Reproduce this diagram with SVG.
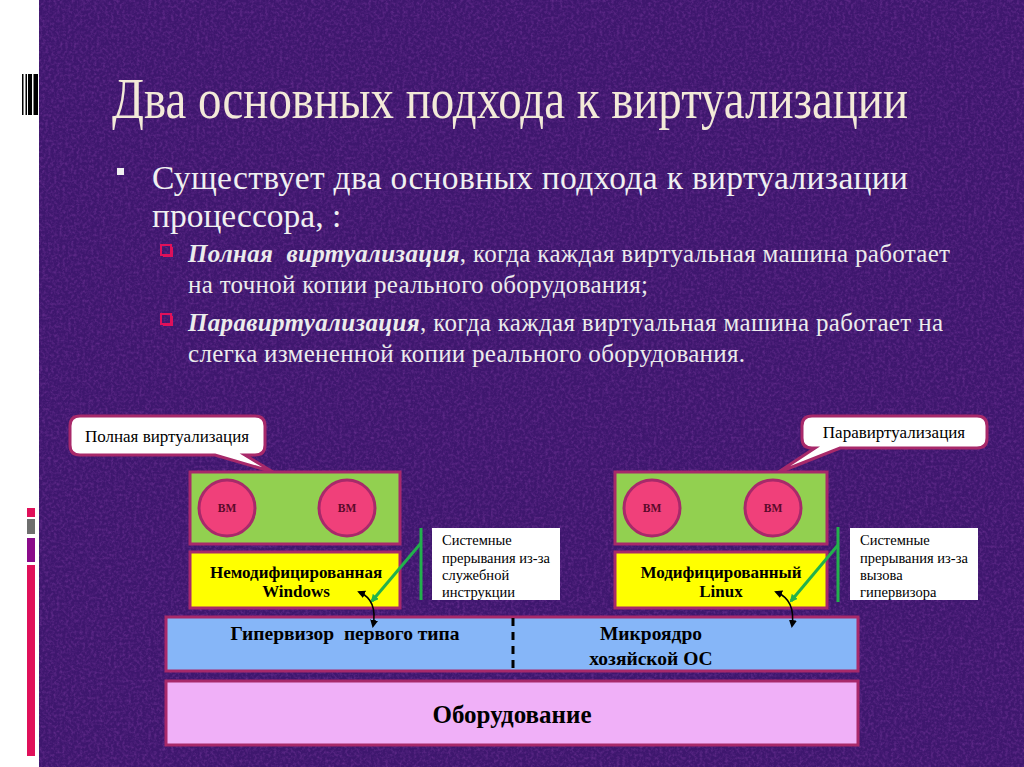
<svg xmlns="http://www.w3.org/2000/svg" width="1024" height="767" viewBox="0 0 1024 767">
<defs>
<style>
.sf{font-family:"Liberation Serif","Times New Roman",serif}
.box{stroke:#a8296a;stroke-width:3}
.lbl{font-family:"Liberation Serif","Times New Roman",serif;font-weight:bold;fill:#000;text-anchor:middle}
.vm{font-family:"Liberation Serif",serif;font-weight:bold;font-size:11.5px;fill:#5a0a2a;text-anchor:middle}
.note{font-family:"Liberation Serif",serif;font-size:14.5px;fill:#000}
.call{fill:#fff;stroke:#a8296a;stroke-width:3}
</style>
<filter id="noise" x="0" y="0" width="100%" height="100%">
<feTurbulence type="fractalNoise" baseFrequency="0.35" numOctaves="3" seed="4"/>
<feColorMatrix type="matrix" values="0 0 0 0 0.45  0 0 0 0 0.1  0 0 0 0 0.6  0 0 0 1.1 -0.45"/>
</filter>
<marker id="ag" markerWidth="8" markerHeight="8" refX="6" refY="4" orient="auto" markerUnits="userSpaceOnUse"><path d="M0,0 L8,4 L0,8 Z" fill="#22b14c"/></marker>
<marker id="ab" markerWidth="8" markerHeight="8" refX="6" refY="4" orient="auto-start-reverse" markerUnits="userSpaceOnUse"><path d="M0,0 L8,4 L0,8 Z" fill="#000"/></marker>
</defs>

<!-- background -->
<rect x="0" y="0" width="1024" height="767" fill="#ffffff"/>
<rect x="39" y="0" width="985" height="767" fill="#3e176e"/>
<rect x="39" y="0" width="985" height="767" filter="url(#noise)" opacity="0.55"/>
<g id="deco" fill="#000">
<rect x="22" y="74" width="1.5" height="41"/>
<rect x="25.5" y="74" width="1.5" height="41"/>
<rect x="28" y="74" width="4" height="41"/>
<rect x="33.5" y="74" width="4.5" height="41"/>
<rect x="27" y="508" width="8" height="9" fill="#e0105a"/>
<rect x="27" y="519" width="8" height="15" fill="#6e6e6e"/>
<rect x="27" y="538" width="8" height="24" fill="#8a0a8a"/>
<rect x="27" y="565" width="8" height="191" fill="#e0105a"/>
</g>

<!-- title -->
<text transform="translate(112,118) scale(0.8,1)" x="0" y="0" class="sf" font-size="57" fill="#f3ead8" textLength="995" lengthAdjust="spacingAndGlyphs">Два основных подхода к виртуализации</text>

<!-- bullets -->
<rect x="117" y="168" width="7" height="7" fill="#f0f0f0"/>
<text class="sf" font-size="33.5" fill="#f0f0f0"><tspan x="152" y="189" textLength="756">Существует два основных подхода к виртуализации</tspan><tspan x="152" y="227">процессора, :</tspan></text>
<g fill="none" stroke="#e0105a" stroke-width="2">
<rect x="161" y="245" width="10" height="10"/>
<rect x="161" y="314" width="10" height="10"/>
</g>
<g fill="#e0105a"><rect x="163" y="255" width="10" height="2"/><rect x="171" y="247" width="2" height="10"/><rect x="163" y="324" width="10" height="2"/><rect x="171" y="316" width="2" height="10"/></g>
<text class="sf" font-size="25" fill="#ececec">
<tspan x="188" y="262" textLength="762"><tspan font-weight="bold" font-style="italic">Полная&#160; виртуализация</tspan>, когда каждая виртуальная машина работает</tspan>
<tspan x="188" y="293" textLength="460">на точной копии реального оборудования;</tspan>
<tspan x="188" y="331" textLength="755"><tspan font-weight="bold" font-style="italic">Паравиртуализация</tspan>, когда каждая виртуальная машина работает на</tspan>
<tspan x="188" y="362" textLength="557">слегка измененной копии реального оборудования.</tspan>
</text>

<!-- callouts -->
<g id="callout-full">
<path class="call" d="M80,416 H255 Q265,416 265,426 V445 Q265,455 255,455 H245 L273,472 L215,455 H80 Q70,455 70,445 V426 Q70,416 80,416 Z"/>
<text x="167" y="442" class="sf" font-size="17" fill="#000" text-anchor="middle">Полная виртуализация</text>
</g>
<g id="callout-para">
<path class="call" d="M812,416 H977 Q987,416 987,426 V438 Q987,448 977,448 H840 L777,473 L815,448 H812 Q802,448 802,438 V426 Q802,416 812,416 Z"/>
<text x="894" y="438" class="sf" font-size="17" fill="#000" text-anchor="middle">Паравиртуализация</text>
</g>

<!-- left stack -->
<g id="vm-left">
<rect class="box" x="190" y="472" width="210" height="72" fill="#92d050"/>
<circle class="box" cx="227" cy="508" r="28" fill="#f0407a"/>
<circle class="box" cx="347" cy="508" r="28" fill="#f0407a"/>
<text x="227" y="512" class="vm">ВМ</text>
<text x="347" y="512" class="vm">ВМ</text>
</g>
<g id="os-windows">
<rect class="box" x="190" y="552" width="210" height="56" fill="#ffff00"/>
<text class="lbl" font-size="17"><tspan x="296" y="578">Немодифицированная</tspan><tspan x="296" y="597">Windows</tspan></text>
</g>
<g id="note-left">
<rect x="432" y="528" width="128" height="72" fill="#fff"/>
<text class="note"><tspan x="442" y="545">Системные</tspan><tspan x="442" y="563">прерывания из-за</tspan><tspan x="442" y="580">служебной</tspan><tspan x="442" y="597">инструкции</tspan></text>
</g>

<!-- right stack -->
<g id="vm-right">
<rect class="box" x="615" y="472" width="212" height="72" fill="#92d050"/>
<circle class="box" cx="652" cy="508" r="28" fill="#f0407a"/>
<circle class="box" cx="773" cy="508" r="28" fill="#f0407a"/>
<text x="652" y="512" class="vm">ВМ</text>
<text x="773" y="512" class="vm">ВМ</text>
</g>
<g id="os-linux">
<rect class="box" x="615" y="552" width="212" height="56" fill="#ffff00"/>
<text class="lbl" font-size="17"><tspan x="721" y="578">Модифицированный</tspan><tspan x="721" y="597">Linux</tspan></text>
</g>
<g id="note-right">
<rect x="850" y="528" width="128" height="72" fill="#fff"/>
<text class="note"><tspan x="860" y="545">Системные</tspan><tspan x="860" y="563">прерывания из-за</tspan><tspan x="860" y="580">вызова</tspan><tspan x="860" y="597">гипервизора</tspan></text>
</g>

<!-- hypervisor / hardware -->
<g id="hypervisor">
<rect class="box" x="166" y="617" width="692" height="54" fill="#86b6f8"/>
<text class="lbl" font-size="19.5" x="345" y="640">Гипервизор&#160; первого типа</text>
<text class="lbl" font-size="19.5"><tspan x="651" y="640">Микроядро</tspan><tspan x="651" y="665">хозяйской ОС</tspan></text>
</g>
<g id="hardware">
<rect class="box" x="166" y="681" width="692" height="64" fill="#f0b0f8"/>
<text class="lbl" font-size="25" x="512" y="723">Оборудование</text>
</g>

<!-- connectors -->
<g id="connectors" fill="none">
<line x1="513" y1="618" x2="513" y2="672" stroke="#000" stroke-width="3" stroke-dasharray="8,6"/>
<line x1="421" y1="528" x2="421" y2="600" stroke="#22b14c" stroke-width="3"/>
<line x1="421" y1="543" x2="372" y2="601" stroke="#22b14c" stroke-width="3" marker-end="url(#ag)"/>
<line x1="838" y1="527" x2="838" y2="602" stroke="#22b14c" stroke-width="3"/>
<line x1="838" y1="545" x2="791" y2="601" stroke="#22b14c" stroke-width="3" marker-end="url(#ag)"/>
<path d="M359,592 Q378,600 373,626" stroke="#000" stroke-width="1.5" marker-start="url(#ab)" marker-end="url(#ab)"/>
<path d="M776,592 Q796,600 792,626" stroke="#000" stroke-width="1.5" marker-start="url(#ab)" marker-end="url(#ab)"/>
</g>
</svg>
